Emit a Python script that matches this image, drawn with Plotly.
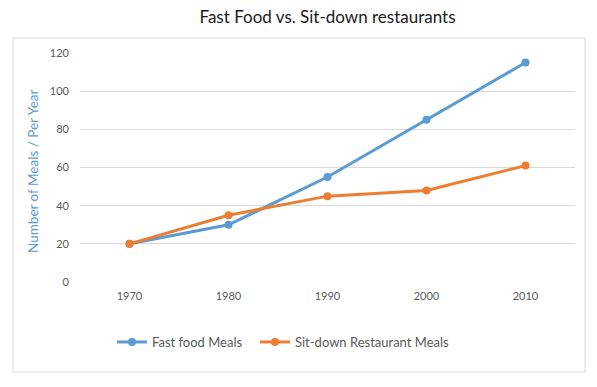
import plotly.graph_objects as go

years = ["1970", "1980", "1990", "2000", "2010"]
fast_food = [20, 30, 55, 85, 115]
sit_down = [20, 35, 45, 48, 61]
y_ticks = [0, 20, 40, 60, 80, 100, 120]

FONT = "Lato, 'Open Sans', sans-serif"

fig = go.Figure()
fig.add_trace(go.Scatter(x=years, y=fast_food, name="Fast food Meals",
                         mode="lines+markers", legend="legend",
                         line=dict(color="#5b9bd5", width=3),
                         marker=dict(color="#5b9bd5", size=8)))
fig.add_trace(go.Scatter(x=years, y=sit_down, name="Sit-down Restaurant Meals",
                         mode="lines+markers", legend="legend2",
                         line=dict(color="#ed7d31", width=3),
                         marker=dict(color="#ed7d31", size=8)))

legend_style = dict(orientation="h", xanchor="left", y=-0.262, yanchor="middle",
                    font=dict(family=FONT, size=13, color="#595959"),
                    itemwidth=30, bgcolor="rgba(0,0,0,0)")

fig.update_layout(
    width=597, height=387,
    margin=dict(l=80, r=22, t=53, b=105),
    paper_bgcolor="white", plot_bgcolor="white",
    font=dict(family=FONT, color="#595959", size=11),
    title=dict(text="Fast Food vs. Sit-down restaurants", xref="paper", x=0.5,
               xanchor="center", y=1 - 17/387, yanchor="middle",
               font=dict(family=FONT, size=17, color="#1a1a1a", weight="normal")),
    showlegend=True,
    legend=dict(x=(112 - 80) / 495, **legend_style),
    legend2=dict(x=(255 - 80) / 495, **legend_style),
    xaxis=dict(type="category", range=[-0.5, 4.5], showgrid=False, zeroline=False,
               showline=False, ticks="", tickfont=dict(size=11), fixedrange=True,
               ticklabelstandoff=6),
    yaxis=dict(range=[0, 120], tickvals=y_ticks, showgrid=True, gridcolor="#d9d9d9",
               gridwidth=1, zeroline=False, showline=False, ticks="",
               ticklabelstandoff=10, tickfont=dict(size=11)),
    annotations=[dict(text="Number of Meals / Per Year", xref="paper", yref="paper",
                      x=-(80 - 33) / 495, y=(282 - 172) / 229, xanchor="center",
                      yanchor="middle", textangle=-90, showarrow=False,
                      font=dict(family=FONT, size=13.5, color="#5b9bd5"))],
    shapes=[dict(type="rect", xref="paper", yref="paper",
                 x0=-(80 - 13) / 495, x1=1 + (585 - 575) / 495,
                 y0=-(372 - 282) / 229, y1=1 + (53 - 38) / 229,
                 line=dict(color="#d9d9d9", width=1), layer="below")],
)

fig.write_html("out.html", config={"displayModeBar": False},
               post_script="document.body.style.margin='0';")
